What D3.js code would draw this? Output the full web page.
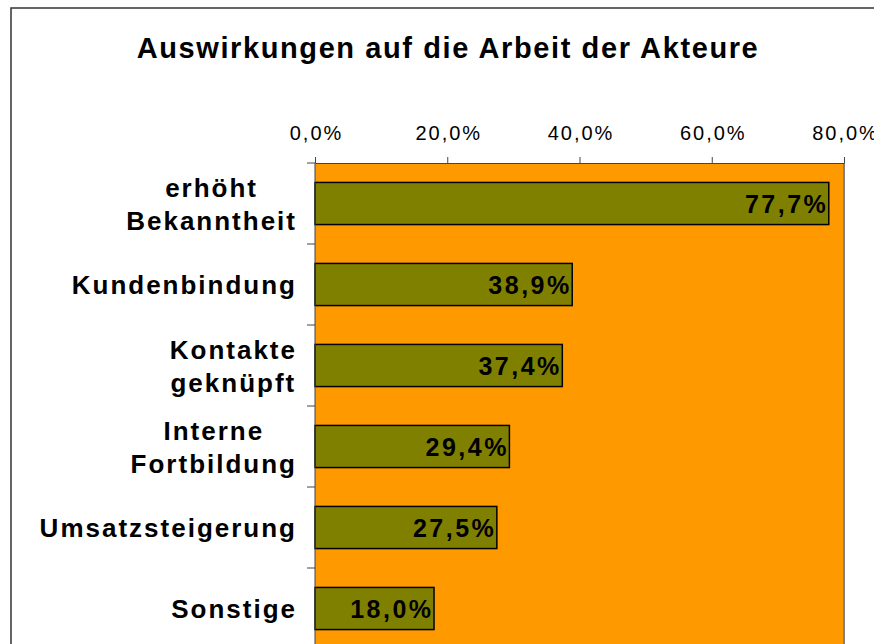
<!DOCTYPE html>
<html>
<head>
<meta charset="utf-8">
<script src="https://cdn.jsdelivr.net/npm/d3@7"></script>
<style>
  body { margin: 0; background: #fff; }
  svg text { font-family: "Liberation Sans", Arial, sans-serif; }
</style>
</head>
<body>
<div id="chart"></div>
<script>
// Data
const categories = [['erhöht', 'Bekanntheit'], ['Kundenbindung'], ['Kontakte', 'geknüpft'],
    ['Interne', 'Fortbildung'], ['Umsatzsteigerung'], ['Sonstige']];
const values = [77.7, 38.9, 37.4, 29.4, 27.5, 18.0];
const tickValues = [0, 20, 40, 60, 80];
const title = 'Auswirkungen auf die Arbeit der Akteure';

// Layout
const W = 874, H = 644;
const plot = {left: 315, right: 844, top: 163, step: 81};

const svg = d3.select('#chart')
    .append('svg')
    .attr('width', W)
    .attr('height', H);

// outer frame (runs off the bottom/right like the original)
svg.append('rect')
    .attr('x', 11).attr('y', 8)
    .attr('width', 900).attr('height', 700)
    .attr('fill', '#fff')
    .attr('stroke', '#333')
    .attr('stroke-width', 1.5);

svg.append('text')
    .attr('x', 448).attr('y', 58)
    .attr('text-anchor', 'middle')
    .style('font-size', '29px')
    .style('font-weight', 'bold')
    .style('letter-spacing', '1.6px')
    .text(title);

const x = d3.scaleLinear()
    .domain([0, 80])
    .range([plot.left, plot.right]);

const y = d3.scaleBand()
    .domain(d3.range(categories.length))
    .range([plot.top, plot.top + plot.step * categories.length])
    .paddingInner(0.48)
    .paddingOuter(0.24);

const fmt = v => d3.format('.1f')(v).replace('.', ',') + '%';

// plot background
svg.append('rect')
    .attr('x', plot.left).attr('y', plot.top)
    .attr('width', plot.right - plot.left)
    .attr('height', H - plot.top + 20)
    .attr('fill', '#ff9900');

svg.append('line')
    .attr('x1', plot.right).attr('x2', plot.right)
    .attr('y1', plot.top).attr('y2', H + 10)
    .attr('stroke', '#808080')
    .attr('stroke-width', 2);

// bars
svg.selectAll('.bar')
    .data(values)
    .enter()
    .append('rect')
    .attr('class', 'bar')
    .attr('x', x(0))
    .attr('y', (d, i) => y(i))
    .attr('width', d => x(d) - x(0))
    .attr('height', y.bandwidth())
    .attr('fill', '#808000')
    .attr('stroke', '#000')
    .attr('stroke-width', 1.5);

// value labels (letter-spacing adds a trailing gap, so nudge right)
svg.selectAll('.val')
    .data(values)
    .enter()
    .append('text')
    .attr('class', 'val')
    .attr('x', d => x(d) - 3 + 2.5)
    .attr('y', (d, i) => y(i) + y.bandwidth() / 2 + 9)
    .attr('text-anchor', 'end')
    .style('font-size', '25px')
    .style('font-weight', 'bold')
    .style('letter-spacing', '2.5px')
    .text(fmt);

// top axis
const xAxis = svg.append('g')
    .attr('transform', `translate(0,${plot.top})`)
    .call(d3.axisTop(x).tickValues(tickValues).tickSize(6).tickSizeOuter(0).tickFormat(fmt));
xAxis.select('.domain').attr('stroke', '#444');
xAxis.selectAll('.tick line').attr('stroke', '#444');
xAxis.selectAll('text')
    .attr('y', -23)
    .attr('dx', '1px')
    .style('font-size', '20px')
    .style('letter-spacing', '2px')
    .attr('fill', '#000');

// left axis: ticks between categories
const yAxisG = svg.append('g');
yAxisG.append('line')
    .attr('x1', plot.left).attr('x2', plot.left)
    .attr('y1', plot.top).attr('y2', H + 10)
    .attr('stroke', '#444');
yAxisG.selectAll('.ytick')
    .data(d3.range(categories.length + 1))
    .enter()
    .append('line')
    .attr('x1', plot.left - 8).attr('x2', plot.left)
    .attr('y1', i => plot.top + i * plot.step)
    .attr('y2', i => plot.top + i * plot.step)
    .attr('stroke', '#444');

// category labels: lines centred, block right-aligned at x = 295
const labels = svg.selectAll('.cat')
    .data(categories)
    .enter()
    .append('text')
    .attr('class', 'cat')
    .style('font-size', '26px')
    .style('font-weight', 'bold')
    .style('letter-spacing', '2px')
    .attr('text-anchor', 'middle');

labels.each(function(lines, i) {
    const t = d3.select(this);
    const cy = y(i) + y.bandwidth() / 2;
    const lh = 33;
    lines.forEach((ln, j) => {
        t.append('tspan')
            .attr('x', 0)
            .attr('y', cy + 9.5 + (j - (lines.length - 1) / 2) * lh)
            .text(ln);
    });
    const w = this.getBBox().width - 2;
    t.selectAll('tspan').attr('x', 295 - w / 2 + 1);
});
</script>
</body>
</html>
